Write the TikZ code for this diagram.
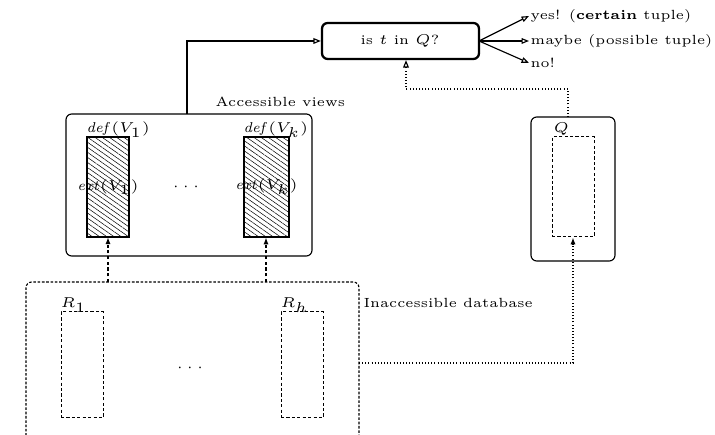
\documentclass[tikz,border=0pt]{standalone}
\usetikzlibrary{arrows.meta,patterns.meta,fit}
\begin{document}
\begin{tikzpicture}[x=0.35pt,y=-0.35pt,
  txt/.style={font=\fontsize{4.65}{6}\selectfont, inner sep=0pt},
  thin line/.style={line width=0.4pt},
  query/.style={draw, line width=0.8pt, rounded corners=2pt, inner sep=0pt},
  viewbox/.style={draw, thin line, rounded corners=2pt, inner sep=0pt},
  hatched/.style={draw, thin line, inner sep=0pt, pattern={Lines[angle=-35,distance=1.45pt,line width=0.18pt]}},
  dashbox/.style={draw, line width=0.35pt, inner sep=0pt, dash pattern=on 1.1pt off 0.8pt},
  dbbox/.style={draw, line width=0.4pt, rounded corners=2pt, dash pattern=on 0.9pt off 0.6pt},
  openarrow/.style={thin line, -{Triangle[open,length=2.6pt,width=2pt]}},
  dotline/.style={thin line, dash pattern=on 0.35pt off 0.75pt},
  dashline/.style={thin line, dash pattern=on 1.1pt off 0.9pt}
]
\useasboundingbox (0,0) rectangle (715,435);
\clip (0,0) rectangle (715,435);

% top query box
\node[query, fit={(322,23)(479,59)}] (query) {};
\node[txt] (qtext) at (400,41) {is $t$ in $Q$?};

% outputs
\node[txt, anchor=west, outer sep=0.6pt] (yes) at (529,16) {yes! (\textbf{certain} tuple)};
\node[txt, anchor=west, outer sep=0.6pt] (maybe) at (529,41) {maybe (possible tuple)};
\node[txt, anchor=west, outer sep=0.6pt] (no) at (529,63) {no!};
\coordinate (qe) at (479,41);
\draw[openarrow] (qe) -- (yes.west);
\draw[openarrow] (qe) -- (maybe.west);
\draw[openarrow] (qe) -- (no.west);

% accessible views
\node[viewbox, fit={(66,114)(312,256)}] (acc) {};
\node[txt, anchor=base west] (acclabel) at (215,107) {Accessible views};
\node[hatched, fit={(87,137)(129,237)}] (v1) {};
\node[hatched, fit={(244,137)(289,237)}] (vk) {};
\node[txt, anchor=base west] (defv1) at (86,133) {$\mathit{def}(V_1)$};
\node[txt, anchor=base west] (defvk) at (243,133) {$\mathit{def}(V_k)$};
\node[txt] (extv1) at (v1.center) {$\mathit{ext}(V_1)$};
\node[txt] (extvk) at (vk.center) {$\mathit{ext}(V_k)$};
\node[txt] (vdots) at (186,187) {$\cdots$};

\coordinate (accup) at (187,114);
\draw[openarrow] (accup) |- (query.west);

% Q box
\node[viewbox, fit={(531,117)(615,261)}] (qbox) {};
\node[dashbox, fit={(552,137)(594,237)}] (qinner) {};
\node[txt, anchor=base west] (qlabel) at (553,133) {$Q$};
\coordinate (qtop) at (568,117);
\coordinate (qbend) at (568,89);
\coordinate (qleft) at (406,89);
\draw[dotline, -{Triangle[open,length=2.6pt,width=2pt]}] (qtop) -- (qbend) -- (qleft) -- (query.south -| qleft);

% inaccessible database
\draw[dbbox] (26,470) -- (26,282) -- (359,282) -- (359,470);
\coordinate (dbtop1) at (108,282);
\coordinate (dbtopk) at (266,282);
\coordinate (dbright) at (359,363);
\node[txt, anchor=base west] (dblabel) at (363,308) {Inaccessible database};
\node[dashbox, fit={(61,312)(103,418)}] (r1) {};
\node[dashbox, fit={(281,312)(323,418)}] (rh) {};
\node[txt, anchor=base west] (r1label) at (60,308) {$R_1$};
\node[txt, anchor=base west] (rhlabel) at (280,308) {$R_h$};
\node[txt] (rdots) at (190,368) {$\cdots$};

\draw[dashline, -{Latex[length=2.4pt,width=1.8pt]}] (dbtop1) -- (dbtop1 |- v1.south);
\draw[dashline, -{Latex[length=2.4pt,width=1.8pt]}] (dbtopk) -- (dbtopk |- vk.south);
\draw[dotline, -{Latex[length=2.4pt,width=1.8pt]}] (dbright) -| (qinner.south);
\end{tikzpicture}
\end{document}
